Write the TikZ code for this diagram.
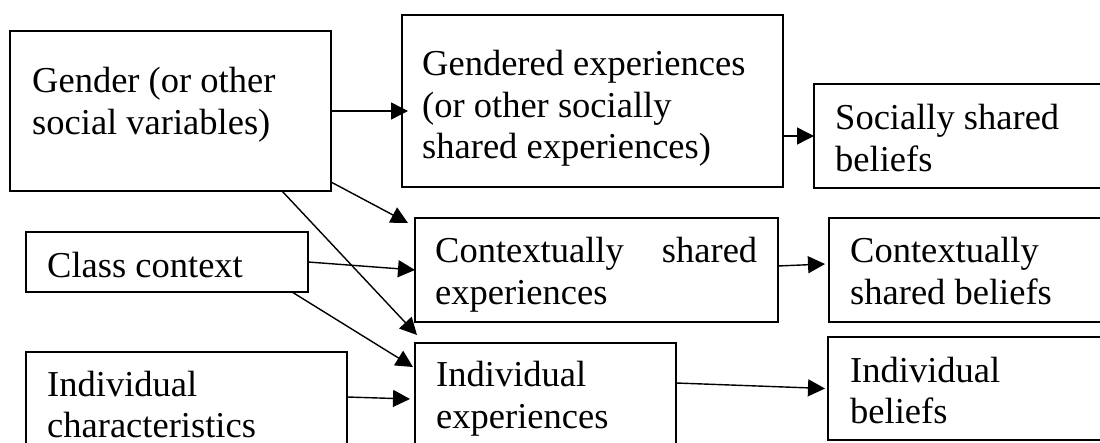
\documentclass[tikz,border=0pt]{standalone}
\usepackage{fontspec}
\setmainfont{Liberation Serif}
\usetikzlibrary{arrows.meta}
\newcommand{\twol}[2]{\vtop{\baselineskip=41.5pt\hbox{#1}\hbox{#2}}}
\newcommand{\threel}[3]{\vtop{\baselineskip=41.5pt\hbox{#1}\hbox{#2}\hbox{#3}}}
\begin{document}
\begin{tikzpicture}[x=1pt,y=-1pt,
  box/.style={draw, line width=1.7pt, inner sep=0pt, outer sep=0pt, anchor=north west},
  lbl/.style={inner sep=0pt, anchor=base west, font=\fontsize{36.5}{41.5}\selectfont},
  arr/.style={line width=1.4pt, -{Triangle[length=17pt,width=17pt]}}]
\useasboundingbox (0,0) rectangle (1100,443);
\clip (0,0) rectangle (1100,443);
\fill[white] (0,0) rectangle (1100,443);
% boxes
\node[box, minimum width=321pt, minimum height=160pt] (gender) at (10,31) {};
\node[box, minimum width=381pt, minimum height=172pt] (gendered) at (402,15) {};
\node[box, minimum width=300pt, minimum height=104pt] (socially) at (814,84) {};
\node[box, minimum width=282pt, minimum height=60pt] (class) at (26,232) {};
\node[box, minimum width=363pt, minimum height=104pt] (ctx) at (415,218) {};
\node[box, minimum width=285pt, minimum height=104pt] (ctxb) at (829,218) {};
\node[box, minimum width=321pt, minimum height=118pt] (char) at (26,352) {};
\node[box, minimum width=261pt, minimum height=127pt] (indexp) at (415,343) {};
\node[box, minimum width=286pt, minimum height=103pt] (indb) at (828,337) {};
% texts
\node[lbl] (gendert) at (32,93) {\twol{Gender (or other}{social variables)}};
\node[lbl] (genderedt) at (422,76) {\threel{Gendered experiences}{(or other socially}{shared experiences)}};
\node[lbl] (sociallyt) at (835,130) {\twol{Socially shared}{beliefs}};
\node[lbl] (classt) at (47,278) {Class context};
\node[lbl] (ctxt) at (435,263) {\twol{\hbox to 322pt{Contextually\hfill shared}}{experiences}};
\node[lbl] (ctxbt) at (850,263) {\twol{Contextually}{shared beliefs}};
\node[lbl] (chart) at (47,396) {\twol{Individual}{characteristics}};
\node[lbl] (indexpt) at (436,387) {\twol{Individual}{experiences}};
\node[lbl] (indbt) at (850,382) {\twol{Individual}{beliefs}};
% connectors
\draw[arr] (gender.east) -- ([xshift=6pt]gender.east -| gendered.west);
\draw[arr] (gendered.east |- socially.west) -- (socially.west);
\draw[arr] ([yshift=9pt]gender.south east) -- ([xshift=-7pt,yshift=-5pt]ctx.north west);
\draw[arr] ([xshift=-49pt]gender.south east) -- ([xshift=2pt,yshift=8pt]indexp.north west);
\draw[arr] (class.east) -- (ctx.west);
\draw[arr] ([xshift=-16pt]class.south east) -- ([xshift=-2pt,yshift=-24pt]indexp.north west);
\draw[arr] ([yshift=-45pt]char.north east) -- ([xshift=-5pt,yshift=-56pt]indexp.north west);
\draw[arr] ([yshift=4pt]ctx.east) -- ([xshift=-4pt,yshift=6pt]ctxb.west);
\draw[arr] ([yshift=-40pt]indexp.north east) -- ([xshift=-3pt]indb.west);
\end{tikzpicture}
\end{document}
